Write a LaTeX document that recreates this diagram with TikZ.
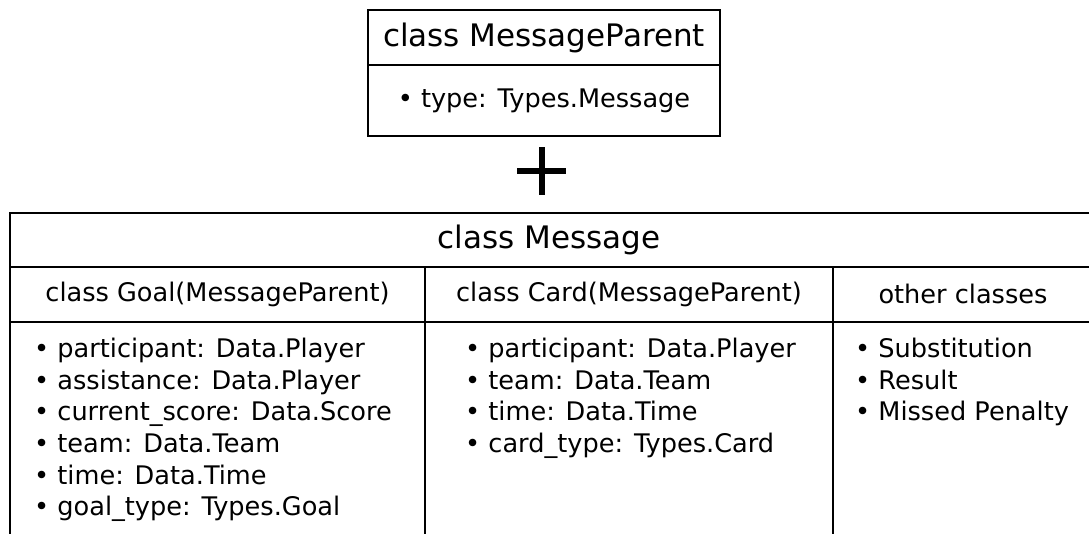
\documentclass[tikz,border=0pt]{standalone}
\usepackage{fontspec}
\setmainfont{DejaVu Sans}
\usetikzlibrary{positioning}

\tikzset{
    cell/.style={draw,line width=2.5pt,inner sep=0pt,outer sep=0pt},
    bigtext/.style={font=\fontsize{31}{36}\selectfont},
    smalltext/.style={font=\fontsize{25.6}{31.6}\selectfont},
    items/.style={smalltext,align=left,anchor=north west,inner sep=0pt},
}

\begin{document}
\begin{tikzpicture}[x=1pt,y=-1pt]
    \clip (0,0) rectangle (1089,533);

    % parent class
    \node[cell,bigtext,minimum width=352,minimum height=55] (parentname) at (544,37.5) {class MessageParent};
    \node[cell,smalltext,minimum width=352,minimum height=71,anchor=north] (parentbody) at (parentname.south) {\textbullet{} type: Types.Message};

    % plus sign
    \coordinate (plus) at (541.5,171);
    \draw[line width=6pt] ([yshift=24]plus) -- ([yshift=-24]plus);
    \draw[line width=6pt] ([xshift=-24.5]plus) -- ([xshift=24.5]plus);

    % message class
    \node[cell,minimum width=1082,minimum height=54,anchor=north west] (msg) at (10,213) {};
    \node[bigtext] (msgname) at (549,240) {class Message};

    \node[cell,smalltext,minimum width=415,minimum height=55,anchor=north west] (goalhead) at (msg.south west) {class Goal(MessageParent)};
    \node[cell,smalltext,minimum width=408,minimum height=55,anchor=north west] (cardhead) at (goalhead.north east) {class Card(MessageParent)};
    \node[cell,minimum width=259,minimum height=55,anchor=north west] (otherhead) at (cardhead.north east) {};
    \node[smalltext] (othername) at (963,294) {other classes};

    \node[cell,minimum width=415,minimum height=240,anchor=north west] (goalbody) at (goalhead.south west) {};
    \node[cell,minimum width=408,minimum height=240,anchor=north west] (cardbody) at (cardhead.south west) {};
    \node[cell,minimum width=259,minimum height=240,anchor=north west] (otherbody) at (otherhead.south west) {};

    \node[items] (goallist) at ([xshift=24,yshift=-16]goalbody.north west) {%
        \textbullet{} participant: Data.Player\\
        \textbullet{} assistance: Data.Player\\
        \textbullet{} current\_score: Data.Score\\
        \textbullet{} team: Data.Team\\
        \textbullet{} time: Data.Time\\
        \textbullet{} goal\_type: Types.Goal};
    \node[items] (cardlist) at ([xshift=40,yshift=-16]cardbody.north west) {%
        \textbullet{} participant: Data.Player\\
        \textbullet{} team: Data.Team\\
        \textbullet{} time: Data.Time\\
        \textbullet{} card\_type: Types.Card};
    \node[items] (otherlist) at ([xshift=22,yshift=-16]otherbody.north west) {%
        \textbullet{} Substitution\\
        \textbullet{} Result\\
        \textbullet{} Missed Penalty};
\end{tikzpicture}
\end{document}
